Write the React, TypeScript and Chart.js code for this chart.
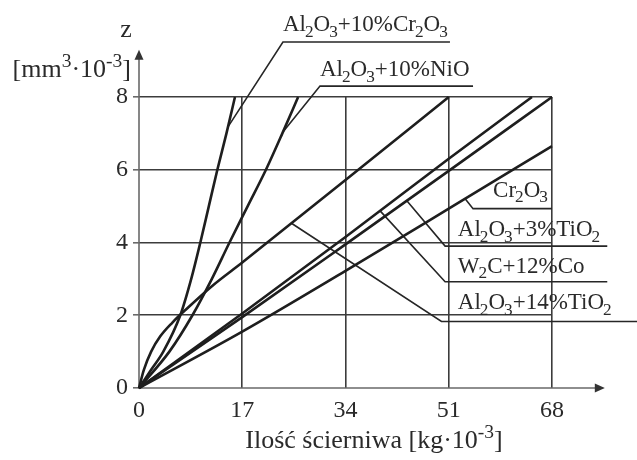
import React, { useEffect, useRef } from 'react';
import { Chart, registerables } from 'chart.js';

Chart.register(...registerables);

// ---- axes ----
const xTicks = [0, 17, 34, 51, 68];
const yTicks = [0, 2, 4, 6, 8];
const axisXEnd = 76.7;
const axisYEnd = 9.3;

// ---- series (x = Ilość ścierniwa, y = z) ----
const cr10X = [0, 2, 4, 6.8, 8.6, 10.1, 11.5, 12.9, 14.4, 15.8];
const cr10Y = [0, 0.5, 1, 2, 3, 4, 5, 6, 7, 8];

const nioX = [0, 5, 8.8, 12, 14.9, 17.9, 20.9, 23.6, 26.2];
const nioY = [0, 1, 2, 3, 4, 5, 6, 7, 8];

const tio14X = [0, 0.8, 2, 3.5, 5.5, 8, 12, 17, 34, 51];
const tio14Y = [0, 0.5, 1.0, 1.42, 1.8, 2.2, 2.8, 3.45, 5.72, 8];

const w2cX = [0, 17, 34, 51, 64.7];
const w2cY = [0, 2.05, 4.15, 6.3, 8];

const tio3X = [0, 17, 34, 51, 68];
const tio3Y = [0, 1.95, 3.95, 5.97, 8];

const cr2o3X = [0, 17, 34, 51, 68];
const cr2o3Y = [0, 1.55, 3.22, 4.93, 6.65];

// ---- labels & leader lines (data coordinates) ----
const labelTexts = [
  'Al_{2}O_{3}+10%Cr_{2}O_{3}',
  'Al_{2}O_{3}+10%NiO',
  'Cr_{2}O_{3}',
  'Al_{2}O_{3}+3%TiO_{2}',
  'W_{2}C+12%Co',
  'Al_{2}O_{3}+14%TiO_{2}',
];
const labelX = [23.7, 29.8, 58.3, 52.5, 52.5, 52.5];
const labelY = [9.82, 8.58, 5.26, 4.18, 3.17, 2.17];

const leaderX = [
  [14.65, 23.7, 51.2],
  [23.7, 29.8, 55.0],
  [53.7, 55.0, 68],
  [44.1, 50.4, 77.1],
  [39.7, 50.4, 77.1],
  [25.1, 49.8, 82],
];
const leaderY = [
  [7.18, 9.51, 9.51],
  [7.04, 8.3, 8.3],
  [5.2, 4.93, 4.93],
  [5.15, 3.9, 3.9],
  [4.87, 2.92, 2.92],
  [4.53, 1.83, 1.83],
];

const yTitle = 'z';
const yUnit = '[mm^{3}·10^{-3}]';
const xTitle = 'Ilość ścierniwa [kg·10^{-3}]';

const FONT = '"Liberation Serif", "Times New Roman", serif';
const INK = '#1e1e1e';
const TEXT = '#2a2a2a';
const GRID = '#3c3c3c';
const AXIS = '#6a6a6a';

type Seg = { t: string; m: 'n' | 'sub' | 'sup' };

function parseRich(s: string): Seg[] {
  const out: Seg[] = [];
  let i = 0;
  let buf = '';
  while (i < s.length) {
    const c = s[i];
    if ((c === '_' || c === '^') && s[i + 1] === '{') {
      if (buf) { out.push({ t: buf, m: 'n' }); buf = ''; }
      const end = s.indexOf('}', i);
      out.push({ t: s.slice(i + 2, end), m: c === '_' ? 'sub' : 'sup' });
      i = end + 1;
    } else {
      buf += c;
      i++;
    }
  }
  if (buf) out.push({ t: buf, m: 'n' });
  return out;
}

function drawRich(ctx: CanvasRenderingContext2D, s: string, x: number, y: number, size: number, align: 'left' | 'center' | 'right') {
  const segs = parseRich(s);
  const small = size * 0.75;
  const widths = segs.map((g) => {
    ctx.font = `${g.m === 'n' ? size : small}px ${FONT}`;
    return ctx.measureText(g.t).width - (g.m === 'sub' ? 1 : 0);
  });
  const total = widths.reduce((a, b) => a + b, 0);
  let cx = align === 'left' ? x : align === 'center' ? x - total / 2 : x - total;
  ctx.textAlign = 'left';
  ctx.textBaseline = 'alphabetic';
  segs.forEach((g, k) => {
    ctx.font = `${g.m === 'n' ? size : small}px ${FONT}`;
    let dy = 0;
    let dx = 0;
    if (g.m === 'sub') { dy = size * 0.25; dx = -1; }
    if (g.m === 'sup') dy = -size * 0.4;
    ctx.fillText(g.t, cx + dx, y + dy);
    cx += widths[k];
  });
}

const overlayPlugin = {
  id: 'overlay',
  beforeDatasetsDraw(chart: any) {
    const { ctx, scales } = chart;
    const xs = scales.x;
    const ys = scales.y;
    const x0 = xs.getPixelForValue(0);
    const y0 = ys.getPixelForValue(0);
    const yEnd = ys.getPixelForValue(axisYEnd);
    const xEnd = xs.getPixelForValue(axisXEnd);
    ctx.save();
    ctx.strokeStyle = AXIS;
    ctx.fillStyle = AXIS;
    ctx.lineWidth = 1.6;
    ctx.beginPath();
    ctx.moveTo(x0, y0 + 1);
    ctx.lineTo(x0, yEnd + 6);
    ctx.moveTo(x0 - 1, y0);
    ctx.lineTo(xEnd - 6, y0);
    ctx.stroke();
    ctx.fillStyle = '#333';
    ctx.beginPath();
    ctx.moveTo(x0, yEnd);
    ctx.lineTo(x0 - 4.5, yEnd + 10);
    ctx.lineTo(x0 + 4.5, yEnd + 10);
    ctx.closePath();
    ctx.fill();
    ctx.beginPath();
    ctx.moveTo(xEnd, y0);
    ctx.lineTo(xEnd - 10, y0 - 4.5);
    ctx.lineTo(xEnd - 10, y0 + 4.5);
    ctx.closePath();
    ctx.fill();
    ctx.restore();
  },
  afterDatasetsDraw(chart: any) {
    const { ctx, scales, chartArea } = chart;
    const xs = scales.x;
    const ys = scales.y;
    const x0 = xs.getPixelForValue(0);
    ctx.save();
    ctx.fillStyle = TEXT;
    labelTexts.forEach((t, i) => {
      drawRich(ctx, t, xs.getPixelForValue(labelX[i]), ys.getPixelForValue(labelY[i]), 23, 'left');
    });
    drawRich(ctx, yTitle, x0 - 13, chartArea.top - 60, 26, 'center');
    drawRich(ctx, yUnit, x0 - 8, chartArea.top - 20, 26, 'right');
    drawRich(ctx, xTitle, x0 + 235, chartArea.bottom + 60, 26, 'center');
    ctx.restore();
  },
};

function pts(xa: number[], ya: number[]) {
  return xa.map((v, i) => ({ x: v, y: ya[i] }));
}

export default function App() {
  const ref = useRef<HTMLCanvasElement | null>(null);
  useEffect(() => {
    document.body.style.margin = '0';
    const canvas = ref.current;
    if (!canvas) return;
    const series = [
      pts(cr10X, cr10Y),
      pts(nioX, nioY),
      pts(cr2o3X, cr2o3Y),
      pts(tio3X, tio3Y),
      pts(w2cX, w2cY),
      pts(tio14X, tio14Y),
    ];
    const datasets: any[] = series.map((d, i) => ({
      label: labelTexts[i],
      data: d,
      borderColor: INK,
      borderWidth: 2.6,
      pointRadius: 0,
      cubicInterpolationMode: 'monotone',
      fill: false,
      clip: false,
    }));
    leaderX.forEach((lx, i) => {
      datasets.push({
        label: 'leader' + i,
        data: pts(lx, leaderY[i]),
        borderColor: '#262626',
        borderWidth: 1.6,
        pointRadius: 0,
        tension: 0,
        fill: false,
        clip: false,
      });
    });
    const chart = new Chart(canvas, {
      type: 'line',
      data: { datasets },
      options: {
        animation: false,
        responsive: false,
        events: [],
        layout: { padding: { top: 97, right: 85, left: 0, bottom: 0 } },
        plugins: { legend: { display: false }, tooltip: { enabled: false }, title: { display: false } },
        scales: {
          x: {
            type: 'linear',
            min: 0,
            max: 68,
            afterBuildTicks: (s: any) => { s.ticks = xTicks.map((v) => ({ value: v })); },
            afterFit: (s: any) => { s.height = 72; },
            border: { display: false },
            grid: {
              drawTicks: false,
              lineWidth: 1.6,
              color: (c: any) => (c.tick && c.tick.value === 0 ? 'rgba(0,0,0,0)' : GRID),
            },
            ticks: {
              autoSkip: false,
              maxRotation: 0,
              padding: 8,
              color: TEXT,
              font: { family: FONT, size: 24 },
            },
          },
          y: {
            type: 'linear',
            min: 0,
            max: 8,
            afterBuildTicks: (s: any) => { s.ticks = yTicks.map((v) => ({ value: v })); },
            afterFit: (s: any) => { s.width = 139; },
            border: { display: false },
            grid: {
              drawTicks: true,
              tickLength: 6,
              tickColor: AXIS,
              lineWidth: 1.6,
              color: (c: any) => (c.tick && c.tick.value === 0 ? 'rgba(0,0,0,0)' : GRID),
            },
            ticks: {
              padding: 5,
              color: TEXT,
              font: { family: FONT, size: 24 },
            },
          },
        },
      },
      plugins: [overlayPlugin],
    });
    return () => chart.destroy();
  }, []);
  return (
    <canvas ref={ref} width={637} height={460} style={{ display: 'block', width: 637, height: 460 }} />
  );
}
